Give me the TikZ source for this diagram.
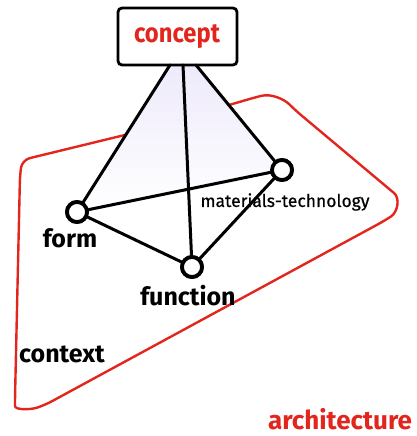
\documentclass[tikz,border=0pt]{standalone}
\usepackage{fontspec}
\setmainfont{Fira Sans}
\newfontfamily\labfont{Fira Sans}
\newfontfamily\condfont[FakeStretch=0.88]{Fira Sans}
\newfontfamily\medfont[FakeBold=0.6]{Fira Sans}
\usetikzlibrary{calc}
\definecolor{archred}{RGB}{226,38,30}
\definecolor{lav}{RGB}{238,234,251}
\tikzset{
  edge/.style={line width=3pt, line cap=round, black},
  ring/.style={circle, draw=black, line width=3.8pt, fill=white, minimum size=20pt, inner sep=0pt},
  lab/.style={font=\labfont\bfseries\fontsize{25}{25}\selectfont, inner sep=0pt},
  redlab/.style={font=\labfont\bfseries\fontsize{26}{26}\selectfont, text=archred, inner sep=0pt},
}
\begin{document}
\begin{tikzpicture}[x=1pt,y=-1pt]
\useasboundingbox (0,0) rectangle (417,436);
% context outline
\draw[archred, line width=2.4pt, line join=round, rounded corners=8pt]
  (22,160) -- (133,133) -- (253,98) .. controls (272,93) and (285,100) .. (295,110)
  -- (388,188) .. controls (400,198) and (398,212) .. (384,221)
  -- (45,405) .. controls (30,410) and (15,410) .. (15,398) -- (20,175) -- cycle;
\coordinate (c1) at (170,65);
\coordinate (c2) at (183,65);
\coordinate (c3) at (196,65);
\node[ring] (form) at (77,212) {};
\node[ring] (mat) at (282,170) {};
\node[ring] (fun) at (192,267) {};
% shading (faint, upper part only)
\fill[top color=lav, middle color=white, bottom color=white, shading angle=0]
  (c1) -- (form.center) -- (mat.center) -- (c3) -- cycle;
% concept box
\node[draw=black, line width=2.8pt, rounded corners=4pt, fill=white, minimum width=119pt, minimum height=57pt, inner sep=0pt] (concept) at (177.5,36.5) {};
\node[font=\condfont\bfseries\fontsize{27}{27}\selectfont, text=archred, inner sep=0pt] (ctext) at (177,37) {concept};
% edges
\draw[edge] (c1) -- (form);
\draw[edge] (c2) -- (fun);
\draw[edge] (c3) -- (mat);
\draw[edge] (form) -- (mat);
\draw[edge] (form) -- (fun);
\draw[edge] (fun) -- (mat);
\node[ring] at (form) {};
\node[ring] at (mat) {};
\node[ring] at (fun) {};
% labels
\node[lab] (lform) at (70,238) {form};
\node[lab] (lfun) at (188,296) {function};
\node[font=\medfont\fontsize{17.5}{17.5}\selectfont, inner sep=0pt] (lmat) at (285,202) {materials-technology};
\node[lab] (lctx) at (62,354) {context};
\node[redlab] (larch) at (340,419) {architecture};
\end{tikzpicture}
\end{document}
